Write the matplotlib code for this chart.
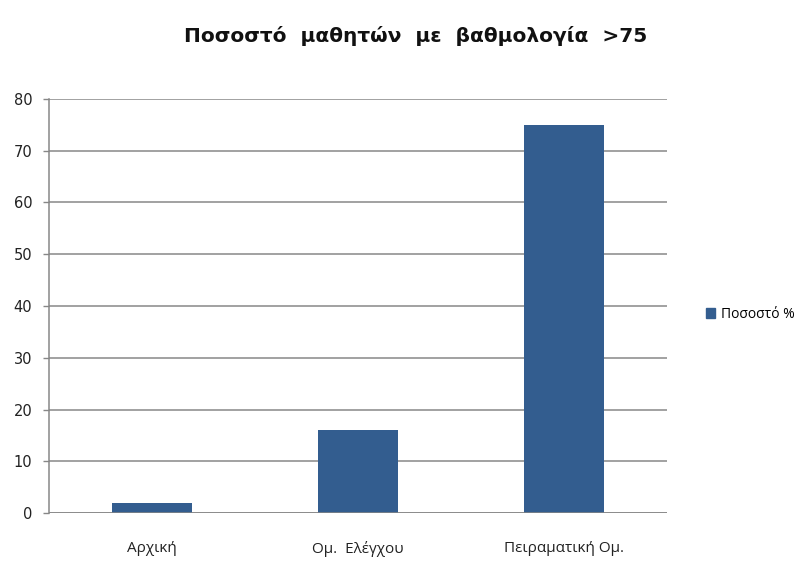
import matplotlib
matplotlib.use("Agg")
import matplotlib.pyplot as plt
from matplotlib.patches import Patch

categories = ["Αρχική", "Ομ.  Ελέγχου", "Πειραματική Ομ."]
values = [2, 16, 75]
series_name = "Ποσοστό %"
title = "Ποσοστό  μαθητών  με  βαθμολογία  >75"
yticks = [0, 10, 20, 30, 40, 50, 60, 70, 80]

plt.rcParams['font.family'] = ['Open Sans', 'DejaVu Sans']

W, H = 805, 563
fig = plt.figure(figsize=(W / 100, H / 100), dpi=100)
left, right, top, bottom = 49, 667, 99, 513
ax = fig.add_axes([left / W, 1 - bottom / H, (right - left) / W, (bottom - top) / H])

color = "#335d8f"
x = range(len(categories))
ax.bar(x, values, width=0.39, color=color, zorder=3)
ax.set_xlim(-0.5, len(categories) - 0.5)
ax.set_ylim(0, 80)
ax.set_yticks(yticks)
ax.set_yticklabels([str(v) for v in yticks], fontsize=10.5, color="#222222", family=['DejaVu Sans'])
ax.set_xticks(list(x))
ax.set_xticklabels(categories, fontsize=11, color="#222222")
ax.tick_params(axis='x', length=0, pad=20)
ax.tick_params(axis='y', length=4, width=1, color="#878787", pad=8)
ax.yaxis.grid(True, color="#878787", linewidth=1.1, zorder=0)
for s in ["top", "right", "bottom"]:
    ax.spines[s].set_visible(False)
ax.spines["left"].set_color("#878787")
ax.spines["left"].set_linewidth(1.1)
ax.axhline(0, color="#878787", linewidth=1.1, zorder=4)

fig.text(416 / W, 1 - 36 / H, title, ha="center", va="center", fontsize=14.5,
         fontweight="bold", color="#111111", family=['DejaVu Sans'])

fig.legend(handles=[Patch(color=color, label=series_name)], loc="center left",
           bbox_to_anchor=(693 / W, 1 - 314 / H), frameon=False, fontsize=10,
           handlelength=0.7, handleheight=0.7, handletextpad=0.4)

fig.savefig("out.png", dpi=100, facecolor="white")
